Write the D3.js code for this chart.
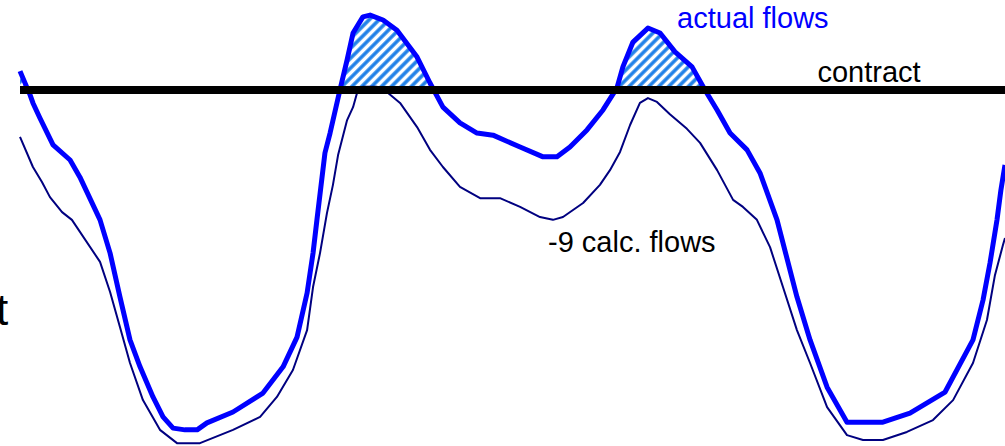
<!DOCTYPE html>
<head>
    <meta charset="utf-8">
    <title>actual flows vs contract</title>
    <style>
        body { margin: 0; background: #fff; }
        text { font-family: "Liberation Sans", Arial, sans-serif; }
    </style>
</head>
<body>

    <svg width="1005" height="446"></svg>

<script src="https://d3js.org/d3.v7.min.js"></script>

<script>

    //data (hours on x, flow on y, contract = 100)
    var actualHours = [0, 0.49, 0.63, 0.97, 1.61, 2.44, 2.92, 3.9, 4.39, 4.87, 5.36, 5.85, 6.48, 6.97, 7.46, 8.04, 8.63, 9.11, 10.38, 11.84,
        12.82, 13.5, 13.99, 14.28, 14.47, 14.86, 15.11, 15.59, 15.94, 16.23, 16.71, 17.06, 17.69, 18.37, 19.35, 19.98, 20.61, 21.44, 22.27, 23.05,
        24.37, 25.49, 26.17, 26.8, 27.63, 28.41, 29.09, 29.38, 29.87, 30.6, 31.19, 31.92, 32.75, 33.38, 33.97, 34.6, 35.43, 36.06, 36.89, 37.86,
        38.5, 39.33, 40.3, 41.18, 42.05, 43.37, 45.08, 46.44, 46.93, 47.27, 47.61, 47.8, 48];
    var actualFlows = [105.4, 98.6, 96.3, 92.0, 84.3, 80.0, 75.1, 62.9, 53.4, 40.9, 28.6, 20.9, 12.3, 6.6, 3.4, 2.9, 2.9, 4.9, 8.0, 13.4,
        20.9, 29.4, 42.0, 53.4, 62.9, 82.0, 87.7, 100.0, 108.6, 116.3, 120.9, 121.4, 120.0, 117.1, 109.4, 102.0, 95.1, 90.6, 87.7, 87.1,
        83.7, 80.9, 80.9, 83.7, 88.6, 94.3, 100.6, 106.6, 113.7, 117.7, 116.3, 110.9, 106.6, 100.0, 94.3, 87.7, 82.9, 76.3, 62.9, 40.9,
        28.6, 15.1, 5.1, 5.1, 5.1, 7.7, 13.7, 28.6, 40.0, 50.6, 62.9, 71.4, 78.6];

    var calcHours = [0, 0.63, 1.07, 1.46, 2.05, 2.53, 3.9, 4.39, 4.87, 5.36, 5.99, 6.82, 7.65, 8.77, 10.38, 11.7, 12.52, 13.3, 13.99, 14.28,
        14.62, 14.96, 15.25, 15.5, 15.94, 16.23, 16.42, 16.71, 17.4, 17.88, 18.52, 19.35, 19.98, 20.61, 21.44, 22.42, 23.39, 24.37, 25.34, 25.97,
        26.46, 27.44, 28.26, 28.75, 29.24, 29.73, 30.21, 30.6, 31.04, 31.67, 32.5, 33.14, 33.97, 34.75, 35.23, 35.91, 36.55, 37.18, 37.86, 38.5,
        39.33, 40.3, 41.08, 42.05, 43.22, 44.49, 45.47, 46.44, 47.12, 47.51, 47.9, 48];
    var calcFlows = [86.6, 78.0, 73.7, 69.4, 65.1, 62.9, 50.9, 42.3, 32.3, 22.0, 11.4, 2.9, -0.9, -0.9, 2.9, 6.6, 12.3, 20.0, 31.4, 43.7,
        53.4, 64.9, 72.9, 81.4, 91.4, 95.1, 99.1, 100.9, 100.9, 99.4, 96.3, 89.4, 82.9, 78.0, 72.3, 69.1, 69.1, 66.6, 63.7, 62.9,
        63.7, 67.7, 72.9, 77.1, 82.3, 90.0, 96.3, 97.7, 96.6, 93.1, 88.9, 84.9, 77.1, 68.6, 66.6, 62.9, 55.1, 43.7, 31.4, 22.0,
        9.4, 1.4, 0.0, 0.0, 2.3, 5.7, 11.4, 22.0, 34.3, 47.1, 55.7, 57.7];

    var contract = 100;
    var contractHours = [0, 48];

    //labels, placed in data units
    var labelNames = ["actual flows", "contract", "-9 calc. flows", "t"];
    var labelHours = [32.02, 38.86, 25.73, -1.17];
    var labelFlows = [117.7, 102.3, 53.7, 32.9];

    var actual = actualHours.map((h, i) => ({h: h, v: actualFlows[i]}));
    var calc = calcHours.map((h, i) => ({h: h, v: calcFlows[i]}));

    //svg setting
    var svg = d3.select("svg"),
        width = +svg.attr("width"),
        height = +svg.attr("height");

    //scales
    var x = d3.scaleLinear().domain([0, 48]).range([20, 1005]);
    var y = d3.scaleLinear().domain([0, 100]).range([440, 90]);

    //hatch pattern for flows above contract
    var defs = svg.append("defs");
    var pat = defs.append("pattern")
        .attr("id", "hatch")
        .attr("patternUnits", "userSpaceOnUse")
        .attr("width", 7)
        .attr("height", 7)
        .attr("patternTransform", "rotate(45)");
    pat.append("rect")
        .attr("width", 7).attr("height", 7)
        .attr("fill", "#fff");
    pat.append("line")
        .attr("x1", 2).attr("y1", 0)
        .attr("x2", 2).attr("y2", 7)
        .attr("stroke", "#1f80e8")
        .attr("stroke-width", 3.5);

    //only keep area above the contract line
    defs.append("clipPath")
        .attr("id", "above")
        .append("rect")
        .attr("x", 0)
        .attr("y", 0)
        .attr("width", width)
        .attr("height", y(contract));

    var area = d3.area()
        .x(d => x(d.h))
        .y0(y(contract))
        .y1(d => y(d.v));

    svg.append("path")
        .datum(actual)
        .attr("clip-path", "url(#above)")
        .attr("fill", "url(#hatch)")
        .attr("d", area);

    var line = d3.line()
        .x(d => x(d.h))
        .y(d => y(d.v));

    //-9 calc flows
    svg.append("path")
        .datum(calc)
        .attr("fill", "none")
        .attr("stroke", "#000080")
        .attr("stroke-width", 2)
        .attr("stroke-linejoin", "round")
        .attr("d", line);

    //actual flows
    svg.append("path")
        .datum(actual)
        .attr("fill", "none")
        .attr("stroke", "#0000ff")
        .attr("stroke-width", 5)
        .attr("stroke-linejoin", "round")
        .attr("d", line);

    //contract line
    svg.append("line")
        .attr("x1", x(contractHours[0]))
        .attr("x2", x(contractHours[1]))
        .attr("y1", y(contract))
        .attr("y2", y(contract))
        .attr("stroke", "#000")
        .attr("stroke-width", 8);

    //labels
    var labelColors = ["#0000ff", "#000", "#000", "#000"];
    var labelSizes = [29, 29, 29, 44];
    svg.selectAll("text.label")
        .data(labelNames)
        .enter().append("text")
            .attr("class", "label")
            .attr("x", (d, i) => x(labelHours[i]))
            .attr("y", (d, i) => y(labelFlows[i]))
            .attr("fill", (d, i) => labelColors[i])
            .attr("font-size", (d, i) => labelSizes[i] + "px")
            .text(d => d);

</script>

</body>
